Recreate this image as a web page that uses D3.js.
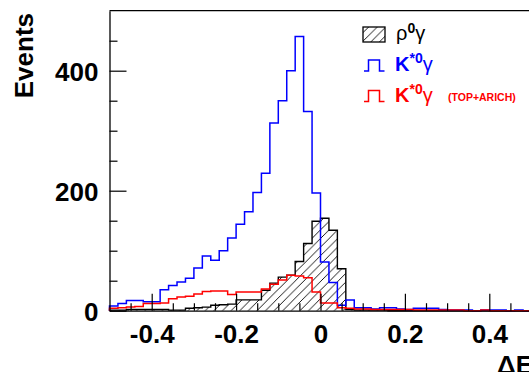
<!DOCTYPE html>
<html>
<head>
<meta charset="utf-8">
<script src="https://cdn.jsdelivr.net/npm/d3@7/dist/d3.min.js"></script>
<style>
  html, body { margin: 0; padding: 0; background: #fff; }
  svg { display: block; }
  text { font-family: "Liberation Sans", Arial, Helvetica, sans-serif; }
</style>
</head>
<body>
<svg id="chart" width="529" height="372"></svg>
<script>
// ---- data ----
const binEdges = [-0.50,-0.48,-0.46,-0.44,-0.42,-0.40,-0.38,-0.36,-0.34,-0.32,
  -0.30,-0.28,-0.26,-0.24,-0.22,-0.20,-0.18,-0.16,-0.14,-0.12,
  -0.10,-0.08,-0.06,-0.04,-0.02,0.00,0.02,0.04,0.06,0.08,
  0.10,0.12,0.14,0.16,0.18,0.20,0.22,0.24,0.26,0.28,
  0.30,0.32,0.34,0.36,0.38,0.40,0.42,0.44,0.46,0.48,0.50];

const rhoGamma = [1,1,2,2,2,2,2,1,1,4,
  5,6,9,10,11,18,18,18,34,46,
  56,59,82,112,149,154,134,70,2,1,
  1,1,1,0,0,0,0,0,0,0,
  0,0,0,0,0,0,0,0,0,0];

const kstarGamma = [8,12,17,17,15,15,35,42,48,54,
  71,91,84,100,121,144,165,197,229,313,
  350,400,457,332,196,81,47,9,18,5,
  5,3,5,5,3,2,4,4,4,2,
  1,1,1,0,1,1,1,0,1,0];

const kstarGammaTopArich = [4,5,6,7,12,12,13,20,23,24,
  28,32,33,33,27,31,31,31,36,44,
  51,59,58,55,31,13,13,5,4,3,
  3,2,2,2,2,2,1,1,1,1,
  1,1,0,0,1,0,0,0,0,0];

const xMajorTicks = [-0.4, -0.2, 0, 0.2, 0.4];
const xMinorTicks = [-0.45,-0.35,-0.3,-0.25,-0.15,-0.1,-0.05,0.05,0.1,0.15,0.25,0.3,0.35,0.45];
const yMajorTicks = [0, 200, 400];
const yMinorTicks = [50,100,150,250,300,350,450];
const xTickLabels = ["-0.4", "-0.2", "0", "0.2", "0.4"];
const yTickLabels = ["0", "200", "400"];

// ---- layout ----
const svg = d3.select("#chart");
const x = d3.scaleLinear().domain([-0.5, 0.5]).range([109.5, 531.5]);
const y = d3.scaleLinear().domain([0, 500]).range([310.7, 10.7]);
const FONT = '"Liberation Sans", Arial, Helvetica, sans-serif';

svg.append("rect").attr("width", 529).attr("height", 372).attr("fill", "#fff");

// hatch pattern
const defs = svg.append("defs");
const hs = 8.6;
const pat = defs.append("pattern").attr("id", "hatch")
  .attr("patternUnits", "userSpaceOnUse").attr("width", hs).attr("height", hs);
pat.append("path")
  .attr("d", `M0,${hs} L${hs},0 M${-hs/2},${hs/2} L${hs/2},${-hs/2} M${hs/2},${hs*1.5} L${hs*1.5},${hs/2}`)
  .attr("stroke", "#000").attr("stroke-width", 0.9).attr("fill", "none");

function stepPoints(vals) {
  const pts = [[binEdges[0], 0]];
  vals.forEach((v, i) => { pts.push([binEdges[i], v]); pts.push([binEdges[i + 1], v]); });
  pts.push([binEdges[binEdges.length - 1], 0]);
  return pts;
}
const line = d3.line().x(d => x(d[0])).y(d => y(d[1]));

const plot = svg.append("g");
// rho gamma hatched
plot.append("path").attr("d", line(stepPoints(rhoGamma)))
  .attr("fill", "url(#hatch)").attr("stroke", "#000").attr("stroke-width", 1.4);
// K*0 gamma blue
plot.append("path").attr("d", line(stepPoints(kstarGamma)))
  .attr("fill", "none").attr("stroke", "#0000ff").attr("stroke-width", 1.5);
// K*0 gamma TOP+ARICH red
plot.append("path").attr("d", line(stepPoints(kstarGammaTopArich)))
  .attr("fill", "none").attr("stroke", "#ff0000").attr("stroke-width", 1.5);

// ---- axes ----
const xAxis = svg.append("g").attr("transform", `translate(0,${y(0)})`)
  .call(d3.axisBottom(x).tickValues(xMajorTicks).tickFormat((d, i) => xTickLabels[i])
    .tickSize(-17).tickSizeOuter(0).tickPadding(13.5));
xAxis.select(".domain").attr("stroke", "#000").attr("stroke-width", 1.3);
xAxis.selectAll(".tick line").attr("stroke", "#000").attr("stroke-width", 1.2);
xAxis.selectAll(".tick text").attr("font-family", FONT).attr("font-size", 26)
  .attr("font-weight", "bold").attr("fill", "#000");
svg.append("g").attr("transform", `translate(0,${y(0)})`)
  .call(d3.axisBottom(x).tickValues(xMinorTicks).tickFormat("").tickSize(-7.5).tickSizeOuter(0))
  .call(g => g.select(".domain").remove())
  .selectAll(".tick line").attr("stroke", "#000").attr("stroke-width", 1.2);

const yAxis = svg.append("g").attr("transform", `translate(${x(-0.5)},0)`)
  .call(d3.axisLeft(y).tickValues(yMajorTicks).tickFormat((d, i) => yTickLabels[i])
    .tickSize(-17).tickSizeOuter(0).tickPadding(11));
yAxis.select(".domain").attr("stroke", "#000").attr("stroke-width", 1.3);
yAxis.selectAll(".tick line").attr("stroke", "#000").attr("stroke-width", 1.2);
yAxis.selectAll(".tick text").attr("font-family", FONT).attr("font-size", 26)
  .attr("font-weight", "bold").attr("fill", "#000").attr("dy", "0.36em");
svg.append("g").attr("transform", `translate(${x(-0.5)},0)`)
  .call(d3.axisLeft(y).tickValues(yMinorTicks).tickFormat("").tickSize(-8).tickSizeOuter(0))
  .call(g => g.select(".domain").remove())
  .selectAll(".tick line").attr("stroke", "#000").attr("stroke-width", 1.2);

// top frame
svg.append("line").attr("x1", x(-0.5)).attr("x2", x(0.5)).attr("y1", y(500)).attr("y2", y(500))
  .attr("stroke", "#000").attr("stroke-width", 1.3);
svg.append("line").attr("x1", x(0.5)).attr("x2", x(0.5)).attr("y1", y(500)).attr("y2", y(0))
  .attr("stroke", "#000").attr("stroke-width", 1.3);

// axis titles
svg.append("text").attr("x", x(0.5) + 1.5).attr("y", 373.5).attr("text-anchor", "end")
  .attr("font-size", 26).attr("font-weight", "bold").attr("fill", "#000").text("ΔE");
svg.append("text").attr("transform", "translate(33.3,13) rotate(-90)").attr("text-anchor", "end")
  .attr("font-size", 26).attr("font-weight", "bold").attr("fill", "#000").text("Events");

// ---- legend ----
const lg = svg.append("g");
lg.append("rect").attr("x", 363).attr("y", 27).attr("width", 22).attr("height", 15)
  .attr("fill", "url(#hatch)").attr("stroke", "#000").attr("stroke-width", 1.3);
function stepSym(yb, color) {
  lg.append("path").attr("d", `M364,${yb} H368.5 V${yb - 11} H379.5 V${yb} H384.5`)
    .attr("fill", "none").attr("stroke", color).attr("stroke-width", 1.5);
}
stepSym(71, "#0000ff");
stepSym(101.5, "#ff0000");

const t1 = lg.append("text").attr("x", 396).attr("y", 39.5).attr("fill", "#000");
t1.append("tspan").attr("font-size", 20).text("ρ");
t1.append("tspan").attr("font-size", 14).attr("font-weight", "bold").attr("dy", -7).text("0");
t1.append("tspan").attr("font-size", 20).attr("dy", 7).text("γ");

function kLabel(yb, color, extra) {
  const t = lg.append("text").attr("x", 395).attr("y", yb).attr("fill", color);
  t.append("tspan").attr("font-size", 20).attr("font-weight", "bold").text("K");
  t.append("tspan").attr("font-size", 14).attr("font-weight", "bold").attr("dy", -8).text("*0");
  t.append("tspan").attr("font-size", 20).attr("dy", 8).text("γ");
  if (extra) {
    lg.append("text").attr("x", 448).attr("y", yb - 0.5).attr("fill", color)
      .attr("font-size", 10.5).attr("font-weight", "bold").text(extra);
  }
}
kLabel(71, "#0000ff", null);
kLabel(101.7, "#ff0000", "(TOP+ARICH)");
</script>
</body>
</html>
